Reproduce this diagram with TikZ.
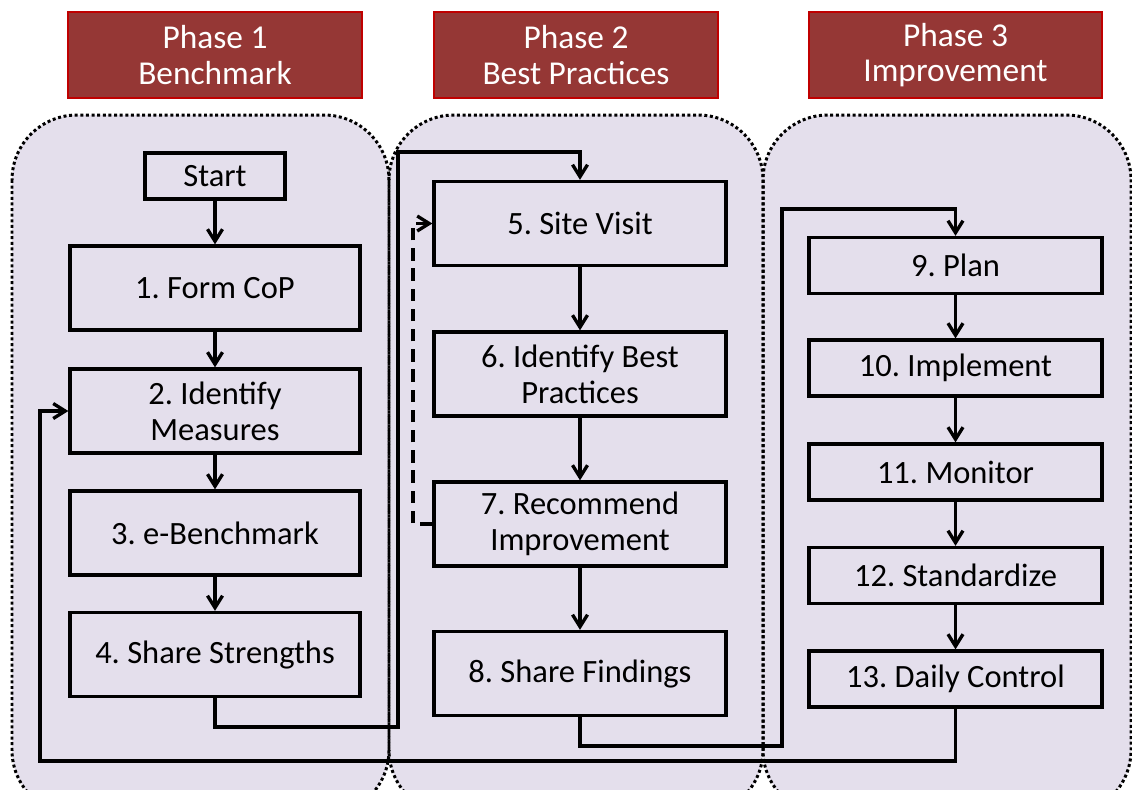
\documentclass[tikz,border=0pt]{standalone}
\usepackage{fontspec}
\setmainfont{Carlito}
\usetikzlibrary{arrows.meta}
\definecolor{regfill}{HTML}{E4DFEC}
\definecolor{hdrfill}{HTML}{953735}
\definecolor{hdrline}{HTML}{C00000}
\begin{document}
\frenchspacing
\begin{tikzpicture}[x=0.02cm,y=-0.02cm,
  region/.style={rounded corners=1.3cm},
  regionline/.style={draw=black,line width=1.7pt,dash pattern=on 1.7pt off 1.5pt,rounded corners=1.3cm},
  hdr/.style={draw=hdrline,fill=hdrfill,line width=1.5pt,text=white,align=center,
    font=\fontsize{19}{20}\selectfont,inner sep=0pt,minimum height=1.72cm},
  box/.style={draw=black,line width=1.9pt,align=center,inner sep=0pt,
    font=\fontsize{18.5}{20.4}\selectfont},
  pbox/.style={box,minimum width=5.8cm,minimum height=1.68cm},
  qbox/.style={box,minimum width=5.84cm,minimum height=1.68cm},
  rbox/.style={box,minimum width=5.86cm,minimum height=1.12cm},
  arr/.style={draw=black,line width=1.9pt,-{Straight Barb[length=0.24cm,width=0.3cm]}},
  darr/.style={arr,dash pattern=on 7pt off 4.5pt}
]
\useasboundingbox (0,0) rectangle (1132,789);
\clip (0,0) rectangle (1132,789);
% regions
\fill[regfill,region] (12,115) rectangle (389,815);
\fill[regfill,region] (389,115) rectangle (763,815);
\fill[regfill,region] (763,115) rectangle (1131,815);
\draw[regionline] (12,115) rectangle (389,815);
\draw[regionline] (389,115) rectangle (763,815);
\draw[regionline] (763,115) rectangle (1131,815);
% headers
\node[hdr,minimum width=5.88cm] (h1) at (215,55) {Phase 1\\Benchmark};
\node[hdr,minimum width=5.68cm] (h2) at (576,55) {Phase 2\\Best Practices};
\node[hdr,minimum width=5.86cm] (h3) at (955.5,55) {Phase 3\\Improvement};
% phase 1
\node[box,minimum width=2.8cm,minimum height=0.92cm] (st) at (215,176) {Start};
\node[pbox] (b1) at (215,288) {1. Form CoP};
\node[pbox] (b2) at (215,411) {2. Identify\\Measures};
\node[pbox] (b3) at (215,533) {3. e-Benchmark};
\node[pbox] (b4) at (215,654.5) {4. Share Strengths};
% phase 2
\node[qbox] (b5) at (580,223.5) {5. Site Visit};
\node[qbox] (b6) at (580,374) {6. Identify Best\\Practices};
\node[qbox] (b7) at (580,524) {7. Recommend\\Improvement};
\node[qbox] (b8) at (580,673.5) {8. Share Findings};
% phase 3
\node[rbox] (b9) at (955.5,265.5) {9. Plan};
\node[rbox] (b10) at (955.5,368) {10. Implement};
\node[rbox] (b11) at (955.5,472) {11. Monitor};
\node[rbox] (b12) at (955.5,575.5) {12. Standardize};
\node[rbox] (b13) at (955.5,679) {13. Daily Control};
% vertical arrows
\draw[arr] (st) -- (b1);
\draw[arr] (b1) -- (b2);
\draw[arr] (b2) -- (b3);
\draw[arr] (b3) -- (b4);
\draw[arr] (b5) -- (b6);
\draw[arr] (b6) -- (b7);
\draw[arr] (b7) -- (b8);
\draw[arr] (b9) -- (b10);
\draw[arr] (b10) -- (b11);
\draw[arr] (b11) -- (b12);
\draw[arr] (b12) -- (b13);
% routing coordinates
\coordinate (k1) at (398,727);
\coordinate (k2) at (398,152);
\coordinate (k3) at (782,746);
\coordinate (k4) at (782,209);
\coordinate (k5) at (40,761);
\coordinate (k7) at (413,223.5);
\draw[arr] (b4.south) |- (k1) -- (k2) -| (b5.north);
\draw[arr] (b8.south) |- (k3) -- (k4) -| (b9.north);
\draw[arr] (b13.south) |- (k5) |- (b2.west);
\draw[darr] (b7.west) -| (k7) -- (b5.west);
\end{tikzpicture}
\end{document}
